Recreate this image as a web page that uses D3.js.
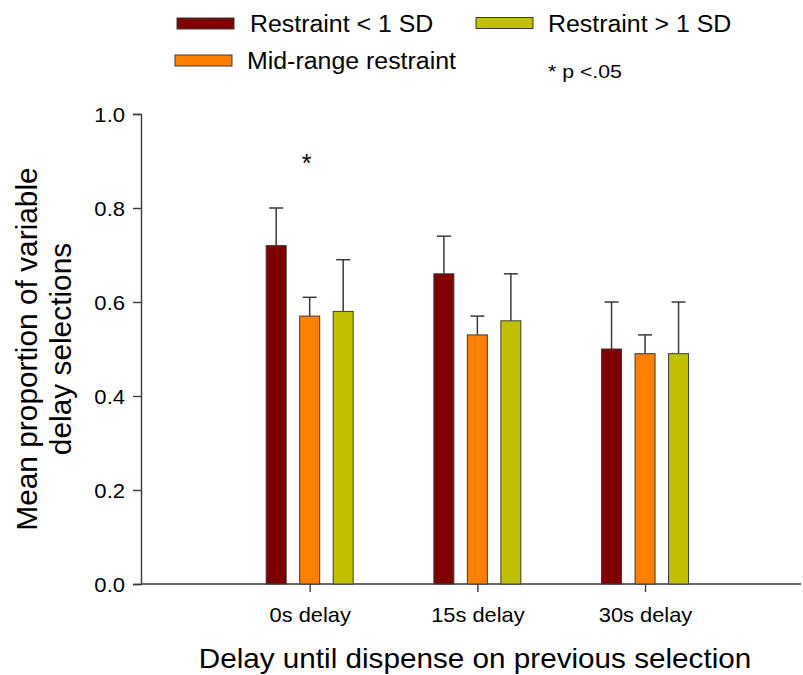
<!DOCTYPE html>
<html><head><meta charset="utf-8">
<script src="https://cdn.jsdelivr.net/npm/d3@7"></script>
<style>body{margin:0;background:#fff}svg{display:block;font-family:"Liberation Sans",Arial,sans-serif}</style>
</head><body>
<svg id="c" width="803" height="675"></svg>
<script>
const categories = ["0s delay", "15s delay", "30s delay"];
const seriesNames = ["Restraint < 1 SD", "Mid-range restraint", "Restraint > 1 SD"];
const seriesColors = ["#7f0000", "#ff8000", "#c0c000"];
const lowRestraint = [0.72, 0.66, 0.50];
const lowRestraintErr = [0.08, 0.08, 0.10];
const midRestraint = [0.57, 0.53, 0.49];
const midRestraintErr = [0.04, 0.04, 0.04];
const highRestraint = [0.58, 0.56, 0.49];
const highRestraintErr = [0.11, 0.10, 0.11];
const yTicks = [0.0, 0.2, 0.4, 0.6, 0.8, 1.0];
const series = [
  {name: seriesNames[0], values: lowRestraint, err: lowRestraintErr, color: seriesColors[0]},
  {name: seriesNames[1], values: midRestraint, err: midRestraintErr, color: seriesColors[1]},
  {name: seriesNames[2], values: highRestraint, err: highRestraintErr, color: seriesColors[2]}
];

const svg = d3.select("#c");
const x = d3.scaleLinear().domain([0, 3.93]).range([142, 801]);
const y = d3.scaleLinear().domain([0, 1]).range([584, 114]);
const barW = 20, offset = 33.5;
const axisCol = "#3a3a3a";

function label(parent, px, py, txt, size, sx, anchor, rot) {
  const g = parent.append("g").attr("transform", `translate(${px},${py})` + (rot ? ` rotate(${rot})` : "") + ` scale(${sx},1)`);
  return g.append("text").attr("font-size", size).attr("text-anchor", anchor || "start").attr("fill", "#000").text(txt);
}

// axes
const yAxis = svg.append("g").attr("transform", "translate(141,0)")
  .call(d3.axisLeft(y).tickValues(yTicks).tickFormat(d3.format(".1f")).tickSizeOuter(0).tickSize(8).tickPadding(8));
yAxis.select(".domain").attr("stroke", axisCol).attr("stroke-width", 1.4);
yAxis.selectAll(".tick line").attr("stroke", axisCol).attr("stroke-width", 1.4);
const ySx = 1.05;
yAxis.selectAll(".tick text").attr("font-size", 21).attr("fill", "#000").attr("font-family", "Liberation Sans, Arial, sans-serif")
  .attr("dy", "0.36em").attr("x", -16 / ySx).attr("transform", `scale(${ySx},1)`);

const xAxis = svg.append("g").attr("transform", "translate(0,584)")
  .call(d3.axisBottom(x).tickValues([1, 2, 3]).tickFormat((d) => categories[d - 1]).tickSizeOuter(0).tickSize(8));
xAxis.select(".domain").remove();
xAxis.append("line").attr("x1", 141).attr("x2", 801).attr("stroke", axisCol).attr("stroke-width", 1.4);
xAxis.selectAll(".tick line").attr("stroke", axisCol).attr("stroke-width", 1.4);
xAxis.selectAll(".tick text").attr("font-size", 21).attr("fill", "#000").attr("font-family", "Liberation Sans, Arial, sans-serif")
  .attr("y", 38).attr("dy", 0).attr("transform", "scale(1.04,1)");

// bars
series.forEach((s, si) => {
  const g = svg.append("g");
  s.values.forEach((v, i) => {
    const cx = x(i + 1) + (si - 1) * offset;
    const top = y(v), et = y(v + s.err[i]);
    g.append("line").attr("x1", cx).attr("x2", cx).attr("y1", top).attr("y2", et).attr("stroke", axisCol).attr("stroke-width", 1.5);
    g.append("line").attr("x1", cx - 7).attr("x2", cx + 7).attr("y1", et).attr("y2", et).attr("stroke", axisCol).attr("stroke-width", 1.5);
    g.append("rect").attr("x", cx - barW / 2).attr("y", top).attr("width", barW).attr("height", y(0) - top)
      .attr("fill", s.color).attr("stroke", axisCol).attr("stroke-width", 1);
  });
});

// significance star
label(svg, x(1) - 3, 172, "*", 25, 1, "middle");

// legend
const leg = [
  {x: 177, y: 18, w: 57, tx: 250, ty: 32, i: 0},
  {x: 476, y: 17.5, w: 57, tx: 548, ty: 32, i: 2},
  {x: 175, y: 55, w: 57, tx: 247, ty: 68.5, i: 1}
];
leg.forEach(l => {
  svg.append("rect").attr("x", l.x).attr("y", l.y).attr("width", l.w).attr("height", 11)
    .attr("fill", seriesColors[l.i]).attr("stroke", axisCol).attr("stroke-width", 1);
  label(svg, l.tx, l.ty, seriesNames[l.i], 23.5, 1.06);
});
label(svg, 548, 77.5, "* p <.05", 19, 1.12);

// axis titles
label(svg, 475, 668, "Delay until dispense on previous selection", 28, 1.06, "middle");
label(svg, 37, 349, "Mean proportion of variable", 29, 1.03, "middle", -90);
label(svg, 71, 349, "delay selections", 29, 1.03, "middle", -90);
</script>
</body></html>
